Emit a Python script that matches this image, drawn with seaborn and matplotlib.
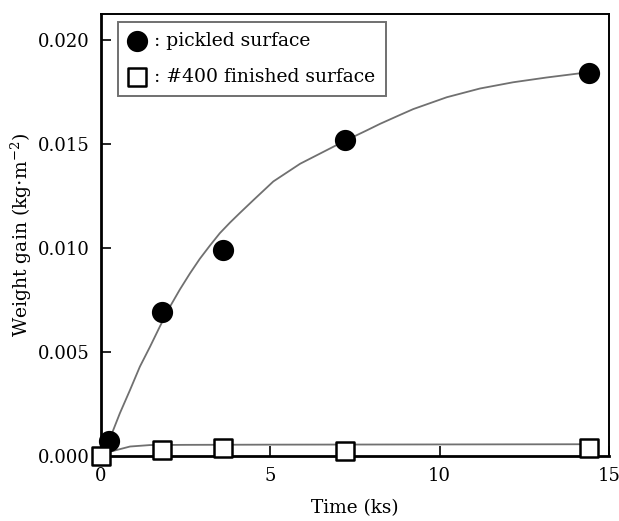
import numpy as np
import pandas as pd
import matplotlib
matplotlib.use("Agg")
import matplotlib.pyplot as plt
import seaborn as sns

# measured points
t_pickled = [0.25, 1.8, 3.6, 7.2, 14.4]
w_pickled = [0.0007, 0.0069, 0.0099, 0.0152, 0.0184]
t_polished = [0.0, 1.8, 3.6, 7.2, 14.4]
w_polished = [0.0, 0.00027, 0.00037, 0.00025, 0.00036]

# fitted curves
t_fit_pickled = [0.0, 0.27, 0.56, 0.86, 1.15, 1.45, 1.74, 2.04, 2.33, 2.63, 2.92,
                 3.22, 3.51, 3.81, 4.10, 4.50, 5.09, 5.88, 6.66, 7.20, 7.84, 8.24,
                 8.83, 9.22, 10.21, 11.19, 12.17, 13.16, 14.38]
w_fit_pickled = [0.0, 0.00085, 0.00205, 0.00317, 0.00429, 0.00525, 0.00622, 0.00718,
                 0.00800, 0.00878, 0.00948, 0.01012, 0.01071, 0.01122, 0.01168,
                 0.01230, 0.01320, 0.01405, 0.01470, 0.01515, 0.01565, 0.01597,
                 0.01640, 0.01668, 0.01725, 0.01767, 0.01797, 0.01820, 0.01845]
t_fit_polished = [0.0, 0.27, 0.86, 1.45, 2.5, 5.0, 10.0, 14.4]
w_fit_polished = [0.0, 0.00020, 0.00045, 0.00052, 0.00053, 0.00054, 0.00055, 0.00056]

sns.set_style("ticks")
plt.rcParams["font.family"] = ["DejaVu Serif"]
plt.rcParams["mathtext.fontset"] = "dejavuserif"
plt.rcParams["text.color"] = "black"
plt.rcParams["axes.labelcolor"] = "black"
plt.rcParams["axes.edgecolor"] = "black"

pts = pd.DataFrame({
    "t": t_pickled + t_polished,
    "w": w_pickled + w_polished,
    "kind": ["pickled"] * 5 + ["polished"] * 5,
})

fig = plt.figure(figsize=(6.19, 5.21), dpi=100)
ax = fig.add_axes([0.163, 0.125, 0.821, 0.848])

sns.lineplot(x=t_fit_pickled, y=w_fit_pickled, color="#707070", lw=1.3, ax=ax)
sns.lineplot(x=t_fit_polished, y=w_fit_polished, color="#707070", lw=1.3, ax=ax)

p = pts[pts.kind == "pickled"]
q = pts[pts.kind == "polished"]
sns.scatterplot(data=p, x="t", y="w", marker="o", s=200, color="black",
                edgecolor="black", ax=ax, clip_on=False, zorder=5,
                label=": pickled surface")
sns.scatterplot(data=q, x="t", y="w", marker="s", s=150, color="white",
                edgecolor="black", linewidth=1.8, ax=ax, clip_on=False, zorder=6,
                label=": #400 finished surface")

ax.set_xlim(0, 15)
ax.set_ylim(0, 0.02125)
ax.set_xticks([0, 5, 10, 15])
ax.set_yticks([0, 0.005, 0.010, 0.015, 0.020])
ax.set_yticklabels(["0.000", "0.005", "0.010", "0.015", "0.020"])
ax.tick_params(direction="in", length=7, width=1.2, labelsize=13, pad=8,
               colors="black")
ax.set_xlabel("Time (ks)", fontsize=13.3, labelpad=10)
ax.set_ylabel(r"Weight gain (kg$\cdot$m$^{-2}$)", fontsize=13.5, labelpad=3)
for s in ["left", "bottom"]:
    ax.spines[s].set_linewidth(2.0)
for s in ["top", "right"]:
    ax.spines[s].set_linewidth(1.4)

leg = ax.legend(loc="upper left", bbox_to_anchor=(0.033, 0.982), borderaxespad=0,
                fontsize=13.5, handletextpad=0.4, borderpad=0.55, labelspacing=0.95,
                handlelength=1.0, fancybox=False, framealpha=1, edgecolor="#707070")
leg.get_frame().set_linewidth(1.4)

fig.savefig("out.png", dpi=100)
